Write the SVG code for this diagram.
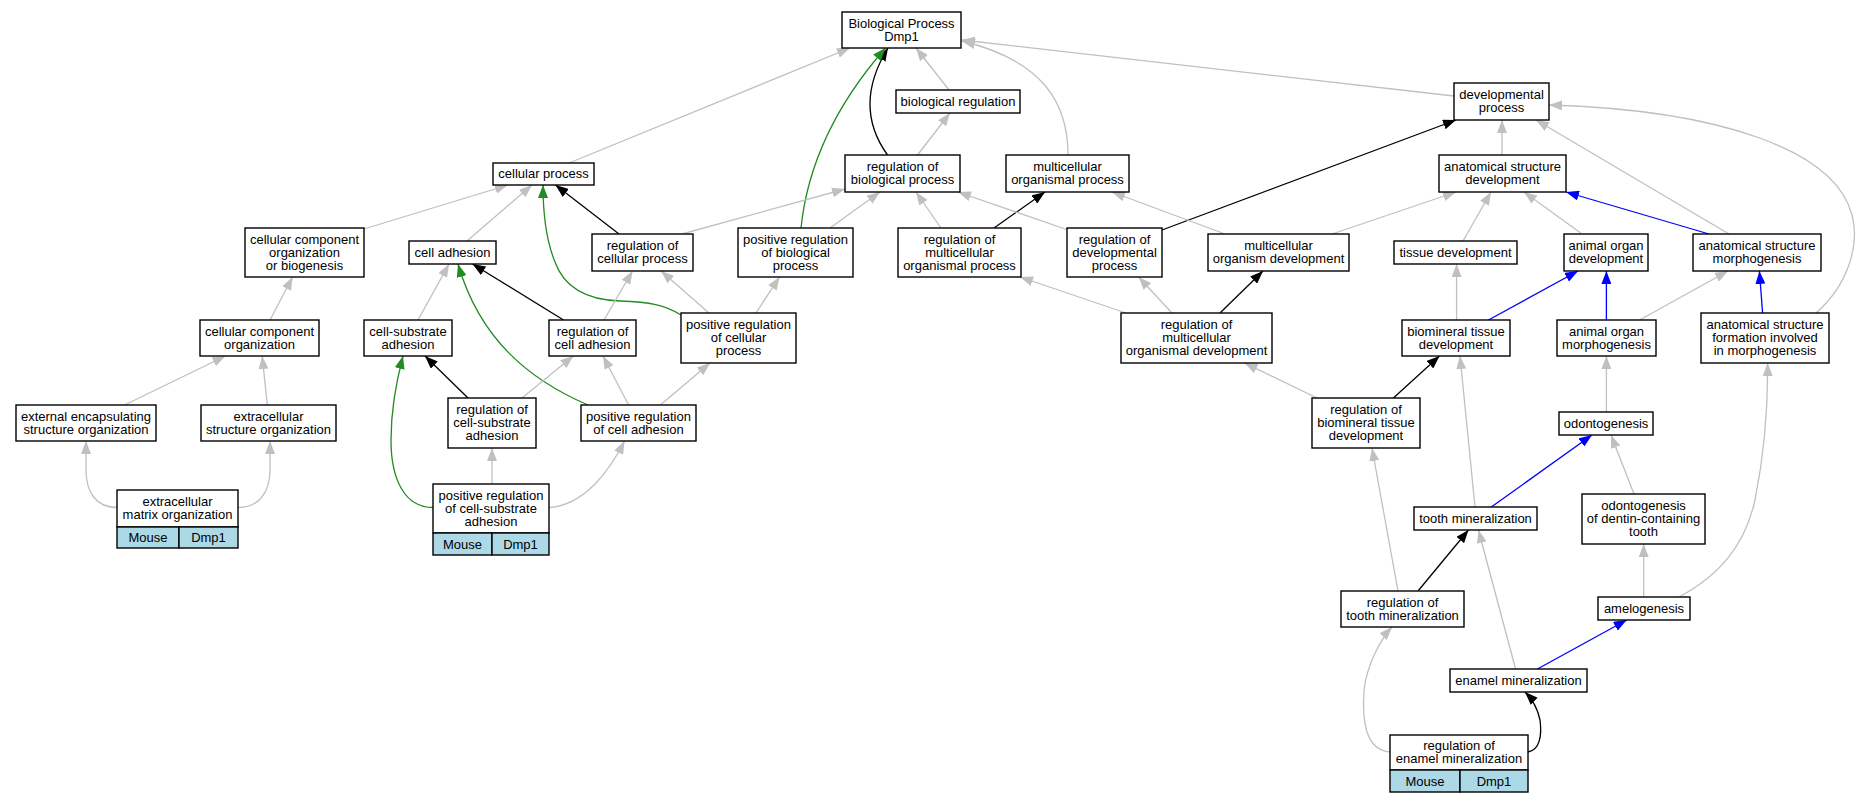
<svg xmlns="http://www.w3.org/2000/svg" width="1860" height="803" viewBox="0 0 1860 803">
<style>
.n rect{fill:#fff;stroke:#000;stroke-width:1.4}
.n rect.t{fill:#add8e6}
text{font-family:"Liberation Sans",Arial,sans-serif;font-size:13px;text-anchor:middle;fill:#000}
#edges path{fill:none;stroke-width:1.3}
.g{stroke:#c0c0c0;marker-end:url(#ag)}
.k{stroke:#000;marker-end:url(#ak)}
.gr{stroke:#228b22;marker-end:url(#agr)}
.b{stroke:#0000ff;marker-end:url(#ab)}
</style>
<defs>
<marker id="ag" viewBox="0 0 13 10" refX="13" refY="5" markerWidth="13" markerHeight="10" markerUnits="userSpaceOnUse" orient="auto"><path d="M0,0L13,5L0,10z" fill="#c0c0c0"/></marker>
<marker id="ak" viewBox="0 0 13 10" refX="13" refY="5" markerWidth="13" markerHeight="10" markerUnits="userSpaceOnUse" orient="auto"><path d="M0,0L13,5L0,10z" fill="#000"/></marker>
<marker id="agr" viewBox="0 0 13 10" refX="13" refY="5" markerWidth="13" markerHeight="10" markerUnits="userSpaceOnUse" orient="auto"><path d="M0,0L13,5L0,10z" fill="#228b22"/></marker>
<marker id="ab" viewBox="0 0 13 10" refX="13" refY="5" markerWidth="13" markerHeight="10" markerUnits="userSpaceOnUse" orient="auto"><path d="M0,0L13,5L0,10z" fill="#0000ff"/></marker>
</defs>
<rect width="1860" height="803" fill="#fff"/>
<g id="edges">
<path class="g" d="M569,163L850,48"/>
<path class="k" d="M887.5,155C866,125 862,90 888,48"/>
<path class="gr" d="M801,228C808,160 840,100 885.5,48"/>
<path class="g" d="M949,90L916,48"/>
<path class="g" d="M1068,155C1068,100 1040,60 962,41"/>
<path class="g" d="M1454,96L962,40"/>
<path class="g" d="M1502,155L1502,120"/>
<path class="k" d="M1162,230L1456,120"/>
<path class="g" d="M1729,234L1536,120"/>
<path class="g" d="M1816,313C1848,285 1860,245 1852,215C1835,150 1720,110 1549,105"/>
<path class="g" d="M1332,234L1456,192"/>
<path class="g" d="M1463,241L1491,192"/>
<path class="g" d="M1582,234L1524,192"/>
<path class="b" d="M1709,234L1566,192"/>
<path class="g" d="M1225,234L1112,192"/>
<path class="k" d="M994,228L1045,192"/>
<path class="g" d="M1068,230L958,192"/>
<path class="g" d="M941,228L916,192"/>
<path class="g" d="M830,228L880,192"/>
<path class="g" d="M682,234L845,189"/>
<path class="k" d="M619,234L555.5,185"/>
<path class="g" d="M467,241L532,185"/>
<path class="g" d="M364,229L508,185"/>
<path class="gr" d="M681,315C665,305 650,302 620,301C590,300 565,290 555,262C546,240 543,215 543,185"/>
<path class="g" d="M709,313L661,271"/>
<path class="g" d="M756,313L779.5,277"/>
<path class="g" d="M604,320L632.5,271"/>
<path class="k" d="M563.5,320L472.5,264"/>
<path class="g" d="M418,320L449,264"/>
<path class="gr" d="M588,405C530,380 480,340 458,264"/>
<path class="g" d="M270,320L292.6,277"/>
<path class="g" d="M124.6,405L225.4,356"/>
<path class="g" d="M267.3,405L262.2,356"/>
<path class="g" d="M117,507.5C96,507.5 86,492 86,470L86,441"/>
<path class="g" d="M238.4,507.5C259,507.5 270,492 270,470L270,441"/>
<path class="k" d="M468,398L425,356"/>
<path class="g" d="M522,398L573.3,356"/>
<path class="g" d="M628.6,405L603,356"/>
<path class="gr" d="M433,507.5C405,507.5 391,480 391,440C391,405 398,375 403,356"/>
<path class="g" d="M492,484L492,448"/>
<path class="g" d="M549,507.5C585,505 610,470 624.5,441"/>
<path class="g" d="M660.4,405L710,363"/>
<path class="g" d="M1126,313L1020,277"/>
<path class="g" d="M1172,313L1138.6,277"/>
<path class="k" d="M1220,313L1263,271"/>
<path class="g" d="M1317,398L1244.5,363"/>
<path class="k" d="M1393.4,398L1439.5,356"/>
<path class="g" d="M1456.6,320L1456.6,264"/>
<path class="b" d="M1488.5,320L1578,271"/>
<path class="b" d="M1606.4,320L1606.4,271"/>
<path class="g" d="M1639.6,320L1728,271"/>
<path class="b" d="M1762.6,313L1759.4,271"/>
<path class="g" d="M1606.4,412L1606.4,356"/>
<path class="b" d="M1491.3,507L1592,435"/>
<path class="g" d="M1634,494L1611,435"/>
<path class="g" d="M1475,507L1460,356"/>
<path class="g" d="M1398,591L1372,448"/>
<path class="k" d="M1418,591L1468.5,530"/>
<path class="g" d="M1515.6,669L1478.4,530"/>
<path class="b" d="M1537.4,669L1626.7,620"/>
<path class="g" d="M1643.7,597L1643.7,544"/>
<path class="g" d="M1679,597C1720,575 1745,545 1755,500C1765,450 1768,400 1767.6,363"/>
<path class="g" d="M1390,752C1365,750 1362,720 1364,690C1367,665 1380,640 1392,627"/>
<path class="k" d="M1528,752C1540,750 1542,735 1540,720C1538,710 1533,700 1525,692"/>
<path class="g" d="M917.5,155L950,113"/>
</g>
<g id="bp" class="n"><rect x="842" y="12" width="119" height="36"/><text x="901.5" y="27.5">Biological Process</text><text x="901.5" y="40.5">Dmp1</text></g>
<g id="bioreg" class="n"><rect x="896" y="90" width="124" height="23"/><text x="958" y="105.5">biological regulation</text></g>
<g id="cellproc" class="n"><rect x="493" y="163" width="101" height="22"/><text x="543.5" y="178">cellular process</text></g>
<g id="regbio" class="n"><rect x="845" y="155" width="115" height="37"/><text x="902.5" y="171">regulation of</text><text x="902.5" y="184">biological process</text></g>
<g id="mop" class="n"><rect x="1006" y="155" width="123" height="37"/><text x="1067.5" y="171">multicellular</text><text x="1067.5" y="184">organismal process</text></g>
<g id="devproc" class="n"><rect x="1454" y="83" width="95" height="37"/><text x="1501.5" y="99">developmental</text><text x="1501.5" y="112">process</text></g>
<g id="asd" class="n"><rect x="1439" y="155" width="127" height="37"/><text x="1502.5" y="171">anatomical structure</text><text x="1502.5" y="184">development</text></g>
<g id="ccob" class="n"><rect x="245" y="228" width="119" height="49"/><text x="304.5" y="243.5">cellular component</text><text x="304.5" y="256.5">organization</text><text x="304.5" y="269.5">or biogenesis</text></g>
<g id="celladh" class="n"><rect x="409" y="241" width="87" height="23"/><text x="452.5" y="256.5">cell adhesion</text></g>
<g id="regcell" class="n"><rect x="592" y="234" width="101" height="37"/><text x="642.5" y="250">regulation of</text><text x="642.5" y="263">cellular process</text></g>
<g id="prbp" class="n"><rect x="738" y="228" width="115" height="49"/><text x="795.5" y="243.5">positive regulation</text><text x="795.5" y="256.5">of biological</text><text x="795.5" y="269.5">process</text></g>
<g id="rmop" class="n"><rect x="898" y="228" width="123" height="49"/><text x="959.5" y="243.5">regulation of</text><text x="959.5" y="256.5">multicellular</text><text x="959.5" y="269.5">organismal process</text></g>
<g id="rdp" class="n"><rect x="1067" y="228" width="95" height="49"/><text x="1114.5" y="243.5">regulation of</text><text x="1114.5" y="256.5">developmental</text><text x="1114.5" y="269.5">process</text></g>
<g id="mod" class="n"><rect x="1208" y="234" width="141" height="37"/><text x="1278.5" y="250">multicellular</text><text x="1278.5" y="263">organism development</text></g>
<g id="tissue" class="n"><rect x="1394" y="241" width="123" height="23"/><text x="1455.5" y="256.5">tissue development</text></g>
<g id="aod" class="n"><rect x="1564" y="234" width="84" height="37"/><text x="1606" y="250">animal organ</text><text x="1606" y="263">development</text></g>
<g id="asm" class="n"><rect x="1693" y="234" width="128" height="37"/><text x="1757" y="250">anatomical structure</text><text x="1757" y="263">morphogenesis</text></g>
<g id="cco" class="n"><rect x="200" y="320" width="119" height="36"/><text x="259.5" y="335.5">cellular component</text><text x="259.5" y="348.5">organization</text></g>
<g id="csa" class="n"><rect x="364" y="320" width="88" height="36"/><text x="408" y="335.5">cell-substrate</text><text x="408" y="348.5">adhesion</text></g>
<g id="rca" class="n"><rect x="549" y="320" width="87" height="36"/><text x="592.5" y="335.5">regulation of</text><text x="592.5" y="348.5">cell adhesion</text></g>
<g id="prcp" class="n"><rect x="681" y="313" width="115" height="50"/><text x="738.5" y="329">positive regulation</text><text x="738.5" y="342">of cellular</text><text x="738.5" y="355">process</text></g>
<g id="rmod" class="n"><rect x="1121" y="313" width="151" height="50"/><text x="1196.5" y="329">regulation of</text><text x="1196.5" y="342">multicellular</text><text x="1196.5" y="355">organismal development</text></g>
<g id="btd" class="n"><rect x="1402" y="320" width="108" height="36"/><text x="1456" y="335.5">biomineral tissue</text><text x="1456" y="348.5">development</text></g>
<g id="aom" class="n"><rect x="1557" y="320" width="99" height="36"/><text x="1606.5" y="335.5">animal organ</text><text x="1606.5" y="348.5">morphogenesis</text></g>
<g id="asfim" class="n"><rect x="1701" y="313" width="128" height="50"/><text x="1765" y="329">anatomical structure</text><text x="1765" y="342">formation involved</text><text x="1765" y="355">in morphogenesis</text></g>
<g id="eeso" class="n"><rect x="16" y="405" width="140" height="36"/><text x="86" y="420.5">external encapsulating</text><text x="86" y="433.5">structure organization</text></g>
<g id="eso" class="n"><rect x="201" y="405" width="135" height="36"/><text x="268.5" y="420.5">extracellular</text><text x="268.5" y="433.5">structure organization</text></g>
<g id="rcsa" class="n"><rect x="448" y="398" width="88" height="50"/><text x="492" y="414">regulation of</text><text x="492" y="427">cell-substrate</text><text x="492" y="440">adhesion</text></g>
<g id="prca" class="n"><rect x="581" y="405" width="115" height="36"/><text x="638.5" y="420.5">positive regulation</text><text x="638.5" y="433.5">of cell adhesion</text></g>
<g id="rbtd" class="n"><rect x="1312" y="398" width="108" height="50"/><text x="1366" y="414">regulation of</text><text x="1366" y="427">biomineral tissue</text><text x="1366" y="440">development</text></g>
<g id="odonto" class="n"><rect x="1559" y="412" width="94" height="23"/><text x="1606" y="427.5">odontogenesis</text></g>
<g id="ecm" class="n"><rect x="117" y="490" width="121" height="37"/><text x="177.5" y="506">extracellular</text><text x="177.5" y="519">matrix organization</text><rect class="t" x="117" y="527" width="62" height="21"/><rect class="t" x="179" y="527" width="59" height="21"/><text x="148" y="542">Mouse</text><text x="208.5" y="542">Dmp1</text></g>
<g id="prcsa" class="n"><rect x="433" y="484" width="116" height="49"/><text x="491" y="499.5">positive regulation</text><text x="491" y="512.5">of cell-substrate</text><text x="491" y="525.5">adhesion</text><rect class="t" x="433" y="533" width="59" height="22"/><rect class="t" x="492" y="533" width="57" height="22"/><text x="462.5" y="548.5">Mouse</text><text x="520.5" y="548.5">Dmp1</text></g>
<g id="toothmin" class="n"><rect x="1414" y="507" width="123" height="23"/><text x="1475.5" y="522.5">tooth mineralization</text></g>
<g id="odt" class="n"><rect x="1582" y="494" width="123" height="50"/><text x="1643.5" y="510">odontogenesis</text><text x="1643.5" y="523">of dentin-containing</text><text x="1643.5" y="536">tooth</text></g>
<g id="rtm" class="n"><rect x="1341" y="591" width="123" height="36"/><text x="1402.5" y="606.5">regulation of</text><text x="1402.5" y="619.5">tooth mineralization</text></g>
<g id="amelo" class="n"><rect x="1598" y="597" width="92" height="23"/><text x="1644" y="612.5">amelogenesis</text></g>
<g id="enamel" class="n"><rect x="1450" y="669" width="137" height="23"/><text x="1518.5" y="684.5">enamel mineralization</text></g>
<g id="rem" class="n"><rect x="1390" y="735" width="138" height="35"/><text x="1459" y="750">regulation of</text><text x="1459" y="763">enamel mineralization</text><rect class="t" x="1390" y="770" width="70" height="22"/><rect class="t" x="1460" y="770" width="68" height="22"/><text x="1425" y="785.5">Mouse</text><text x="1494" y="785.5">Dmp1</text></g>
</svg>
